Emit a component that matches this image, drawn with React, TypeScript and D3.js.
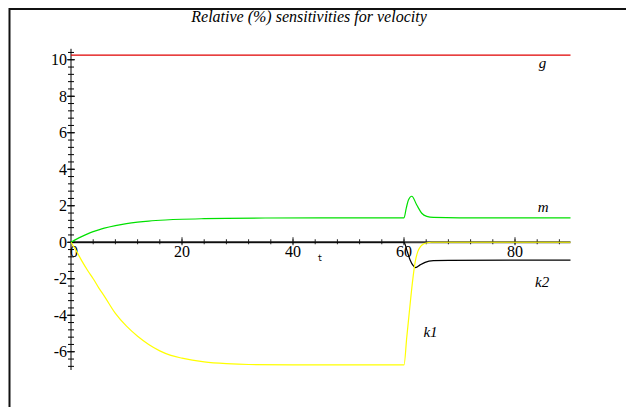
import React, { useRef, useEffect } from 'react';
import * as d3 from 'd3';

// values
const title = 'Relative (%) sensitivities for velocity';

const gT = [0, 90];
const gV = [10.25, 10.25];

const mT = [0, 1, 2, 3, 4, 5, 6, 8, 10, 12, 14, 17, 20, 24, 28, 35, 45, 60, 60.4, 60.8, 61.4, 62.3, 63.2, 64.1, 65.3, 70, 90];
const mV = [0, 0.17, 0.32, 0.46, 0.58, 0.68, 0.77, 0.91, 1.02, 1.1, 1.16, 1.22, 1.26, 1.29, 1.31, 1.33, 1.34, 1.34, 1.86, 2.32, 2.52, 2.04, 1.59, 1.42, 1.36, 1.34, 1.34];

const k1T = [0, 1, 2, 3, 4, 5, 6, 8, 10, 12, 14, 16, 18, 20, 24, 28, 32, 40, 50, 60, 60.5, 61, 61.5, 62, 62.5, 63, 63.5, 64, 65, 70, 90];
const k1V = [0, -0.5, -1.05, -1.55, -2.0, -2.5, -2.95, -3.9, -4.6, -5.15, -5.6, -5.95, -6.2, -6.35, -6.55, -6.65, -6.7, -6.72, -6.72, -6.72, -5.2, -3.7, -2.25, -1.1, -0.5, -0.22, -0.1, -0.04, 0, 0, 0];

const k2T = [0, 60, 60.5, 61.1, 61.7, 62.1, 62.9, 63.8, 65.3, 68, 90];
const k2V = [0, 0, -0.42, -0.97, -1.3, -1.39, -1.24, -1.1, -1.01, -0.99, -0.98];

const xMajor = [20, 40, 60, 80];
const yMajor = [-6, -4, -2, 0, 2, 4, 6, 8, 10];

const App = () => {
  const svgRef = useRef<SVGSVGElement>(null);

  useEffect(() => {
    const svg = d3.select(svgRef.current);
    svg.selectAll('*').remove();

    const width = 626;
    const height = 407;
    svg.attr('width', width).attr('height', height);

    const x = d3.scaleLinear().domain([0, 90]).range([71, 570.5]);
    const y = d3.scaleLinear().domain([-7, 10.6]).range([370, 48.8]);
    const serif = 'Liberation Serif';

    svg.append('rect').attr('width', width).attr('height', height).attr('fill', '#fff');

    // frame (runs off the right and bottom edges)
    svg.append('rect')
      .attr('x', 9.5).attr('y', 9)
      .attr('width', width).attr('height', height)
      .attr('fill', 'none').attr('stroke', '#111').attr('stroke-width', 2);

    svg.append('text')
      .attr('x', 309).attr('y', 22)
      .attr('text-anchor', 'middle')
      .style('font-family', serif).style('font-style', 'italic').style('font-size', '16px')
      .text(title);

    // axes
    const axes = svg.append('g');
    axes.append('line')
      .attr('x1', x(0)).attr('x2', x(90)).attr('y1', y(0)).attr('y2', y(0))
      .attr('stroke', '#3a3a3a').attr('stroke-width', 2);
    axes.append('line')
      .attr('x1', x(0)).attr('x2', x(0)).attr('y1', y(-7)).attr('y2', y(10.6))
      .attr('stroke', '#000').attr('stroke-width', 1);

    const xTicks = d3.range(4, 90, 4);
    axes.selectAll('.xt').data(xTicks).join('line')
      .attr('x1', d => x(d)).attr('x2', d => x(d))
      .attr('y1', y(0) - 3).attr('y2', y(0) + 2)
      .attr('stroke', '#222').attr('stroke-width', 1);
    axes.selectAll('.xm').data(xMajor).join('line')
      .attr('x1', d => x(d)).attr('x2', d => x(d))
      .attr('y1', y(0) - 5).attr('y2', y(0) + 3)
      .attr('stroke', '#222').attr('stroke-width', 1);

    const yTicks = d3.range(-17, 27).map(i => i * 0.4);
    axes.selectAll('.yt').data(yTicks).join('line')
      .attr('x1', x(0) - 3).attr('x2', x(0) + 3)
      .attr('y1', d => y(d)).attr('y2', d => y(d))
      .attr('stroke', '#000').attr('stroke-width', 1);
    axes.selectAll('.ym').data(yMajor).join('line')
      .attr('x1', x(0) - 4).attr('x2', x(0) + 4)
      .attr('y1', d => y(d)).attr('y2', d => y(d))
      .attr('stroke', '#000').attr('stroke-width', 1);

    axes.selectAll('.yl').data(yMajor).join('text')
      .attr('x', x(0) - 4).attr('y', d => y(d) + 5.5)
      .attr('text-anchor', 'end')
      .style('font-family', serif).style('font-size', '16px')
      .text(d => String(d));
    axes.selectAll('.xl').data([0, ...xMajor]).join('text')
      .attr('x', d => x(d) + (d === 0 ? 3 : 0)).attr('y', y(0) + 15)
      .attr('text-anchor', 'middle')
      .style('font-family', serif).style('font-size', '16px')
      .text(d => String(d));

    svg.append('text')
      .attr('x', 320).attr('y', 261)
      .attr('text-anchor', 'middle')
      .style('font-family', 'DejaVu Sans Mono').style('font-size', '8px')
      .text('t');

    // curves
    const line = d3.line<[number, number]>()
      .x(d => x(d[0])).y(d => y(d[1]))
      .curve(d3.curveMonotoneX);
    const series: { t: number[]; v: number[]; color: string }[] = [
      { t: k2T, v: k2V, color: '#000' },
      { t: gT, v: gV, color: '#e00000' },
      { t: mT, v: mV, color: '#00e000' },
      { t: k1T, v: k1V, color: '#ffff00' },
    ];
    series.forEach(s => {
      svg.append('path')
        .datum(s.t.map((t, i) => [t, s.v[i]] as [number, number]))
        .attr('d', line)
        .attr('fill', 'none')
        .attr('stroke', s.color)
        .attr('stroke-width', 1.2);
    });

    const labels = [
      { name: 'g', t: 84.3, v: 10.25, dy: 13 },
      { name: 'm', t: 84.1, v: 1.34, dy: -6 },
      { name: 'k2', t: 83.6, v: -0.98, dy: 27 },
      { name: 'k1', t: 63.5, v: -4.9, dy: 5 },
    ];
    svg.selectAll('.lab').data(labels).join('text')
      .attr('x', d => x(d.t)).attr('y', d => y(d.v) + d.dy)
      .style('font-family', serif).style('font-style', 'italic').style('font-size', '15px')
      .text(d => d.name);
  }, []);

  return (
    <div style={{ position: 'absolute', left: 0, top: 0 }}>
      <svg ref={svgRef}></svg>
    </div>
  );
};

export default App;
